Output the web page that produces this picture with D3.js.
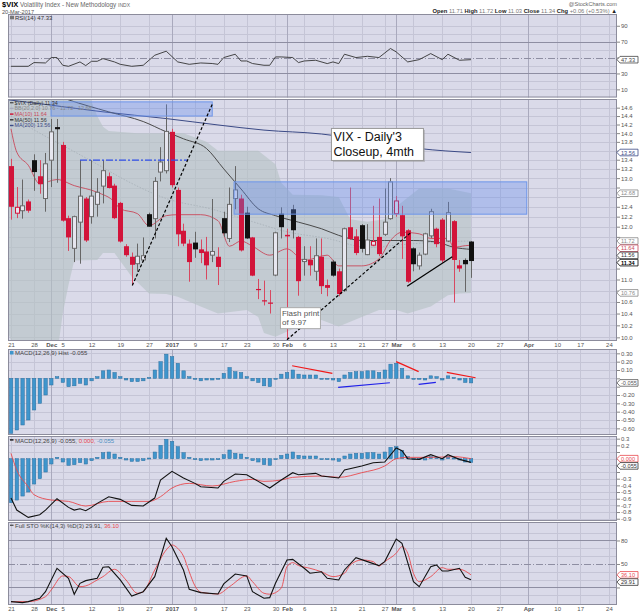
<!DOCTYPE html>
<html><head><meta charset="utf-8">
<script src="https://cdn.jsdelivr.net/npm/d3@7"></script>
<style>body{margin:0;background:#fff}svg{display:block}</style>
</head><body><svg id="c" width="640" height="614"></svg>
<script>
// ---------------- DATA ----------------
const dateTickIdx = [0,4,7,9,14,19,24,28,32,37,41,46,48,51,56,61,65,67,70,75,80,85,90,95,99,104];
const dateTickLabels = ["21","28","Dec","5","12","19","27","2017","9","17","23","30","Feb","6","13","21","27","Mar","6","13","20","27","Apr","10","17","24"];
const monthLabels = ["Dec","2017","Feb","Mar","Apr"];

const prevClose0 = 12.85;
const open = [13.26,12.27,12.32,12.51,13.39,13.04,12.57,13.39,14.14,13.73,
12.17,11.58,12.09,12.57,12.20,12.45,12.83,13.04,12.84,12.48,
11.62,11.42,11.29,11.36,12.25,12.16,13.13,13.16,14.03,12.75,
11.92,11.67,11.69,11.56,11.52,11.45,11.42,12.17,11.77,12.57,
12.57,12.28,11.79,10.83,10.63,10.59,11.08,12.26,11.84,12.35,
11.80,11.33,11.36,11.15,11.42,10.90,11.33,11.15,10.80,11.99,
11.81,12.03,11.46,11.64,11.80,11.85,12.16,12.26,12.23,11.93,
11.58,11.25,11.47,11.82,11.96,12.14,11.72,12.11,11.26,11.36,
11.71];
const high = [13.42,12.81,12.97,12.55,13.52,13.39,13.55,14.33,14.33,13.80,
12.22,12.22,13.39,12.60,13.39,13.00,13.39,13.12,12.88,12.50,
11.66,11.50,11.67,11.79,12.28,13.02,13.68,14.68,14.10,12.80,
12.06,11.75,11.90,11.75,11.80,12.56,11.60,12.30,12.80,13.26,
12.65,12.40,11.80,11.01,10.98,10.81,11.90,12.39,11.96,12.44,
11.82,11.62,11.62,11.77,11.77,11.00,11.36,11.20,11.98,12.80,
11.95,12.05,12.05,12.42,12.57,12.78,13.00,12.62,12.42,11.95,
11.60,11.50,11.88,12.36,11.98,12.17,12.50,12.13,11.36,11.39,
11.72];
const low = [12.14,12.17,12.16,12.28,12.73,12.67,12.30,12.81,12.90,12.10,
11.53,11.32,11.29,11.70,12.06,12.20,12.47,12.78,12.15,11.69,
11.42,10.90,11.14,11.32,12.00,11.77,12.93,13.10,12.80,11.62,
11.62,10.96,11.40,11.30,11.00,11.32,10.90,11.80,11.70,12.35,
11.52,11.76,11.06,10.65,10.54,10.40,11.06,11.77,9.97,11.77,
10.71,11.07,11.07,10.98,10.74,10.70,11.05,10.70,10.78,11.74,
11.45,11.50,11.45,11.62,11.43,11.82,12.14,12.20,11.38,10.94,
11.15,11.18,11.45,11.78,11.60,11.31,11.70,10.59,11.14,10.78,
11.03];
const close = [12.40,12.39,12.42,12.32,13.13,12.87,13.31,14.03,14.09,12.12,
11.79,12.20,12.62,11.73,12.62,12.70,13.16,12.79,12.17,11.71,
11.45,11.27,11.43,11.44,12.00,12.93,13.35,14.04,12.85,11.85,
11.67,11.32,11.56,11.49,11.26,11.52,11.23,11.87,12.45,12.75,
11.54,11.77,11.07,10.81,10.61,10.57,11.88,11.99,11.81,11.93,
10.97,11.37,11.26,11.44,10.88,10.85,11.07,10.74,11.96,11.76,
11.49,11.57,11.74,11.71,11.47,12.09,12.92,12.52,11.81,10.96,
11.28,11.45,11.86,12.30,11.66,11.35,12.28,11.36,11.20,11.28,
11.34];

const ma10Idx = [0,1,3,5,8,11,15,18,19,22,24,27,29,33,36,38,40,42,45,48,51,55,57,61,64,66,68,71,73,76,77,79,80];
const ma10Val = [14.1,13.57,13.28,12.88,12.97,12.84,12.70,12.5,12.36,12.26,12.02,12.22,12.24,12.24,12.12,11.62,11.72,11.62,11.45,11.57,11.35,11.45,11.25,11.25,11.38,11.73,11.89,11.86,11.77,11.77,11.6,11.63,11.64];
const ma50Idx = [-1,5,10,17,23,27,30,34,37,40,43,46,50,54,57,61,65,70,74,77,80];
const ma50Val = [15.4,15.05,14.79,14.5,14.27,14.03,13.87,13.65,13.2,12.77,12.36,12.22,12.09,11.96,11.83,11.73,11.73,11.73,11.70,11.6,11.56];
const ma200Idx = [-1,7,16,27,36,44,54,62,71,80];
const ma200Val = [14.8,14.66,14.5,14.34,14.19,14.07,13.98,13.83,13.65,13.56];
const bbUpIdx = [-1,13,14,15,16,17,22,30,34,36,43,46,47,49,54,57,59,62,65,67,71,76,80];
const bbUpVal = [15.5,15.1,14.75,14.4,14.15,14.05,14.0,14.0,13.8,13.6,13.6,13.3,12.9,12.65,12.64,12.6,12.15,12.1,12.15,12.4,12.78,12.78,12.68];
const bbLoIdx = [-1,0,1,8,9,10,11,15,16,18,21,24,27,29,33,36,41,43,44,46,50,54,57,61,64,67,69,73,76,78,80];
const bbLoVal = [10.2,9.95,9.7,9.7,10.4,10.9,11.35,11.36,11.49,11.49,11.05,10.75,10.74,10.69,10.52,10.40,10.46,10.34,10.07,10.01,10.18,10.29,10.18,10.34,10.46,10.46,10.4,10.52,10.72,10.75,10.76];
const bbMidIdx = [0,5,9,15,20,27,35,42,48,55,62,68,74,80];
const bbMidVal = [14.4,14.0,13.72,13.3,12.95,12.57,12.35,12.1,11.9,11.77,11.6,11.65,11.7,11.72];

const rsiIdx = [0,3,4,6,7,8,9,10,12,13,14,15,16,18,19,21,23,25,27,29,31,33,35,36,37,39,40,41,42,44,45,46,47,49,50,51,53,55,56,57,58,60,62,64,66,67,69,71,73,75,76,78,80];
const rsiVal = [39,39,43.7,43.2,50,50,40.3,39,44.5,39.9,45.3,45.3,48.7,44.5,41.5,39,40.3,52.9,58,44.5,41.5,43.2,42.5,41.5,50,54.2,45.7,45.7,42.5,40.3,40.3,50.8,50.8,50,43.7,45.7,46.6,42.4,44.5,42.4,54.2,50,51.6,50,61.4,57.1,44.5,47.4,55,47.4,54.2,46.6,47.33];

const macdHist = [-0.66,-0.62,-0.56,-0.50,-0.38,-0.30,-0.20,-0.08,0.02,-0.05,
-0.10,-0.09,-0.06,-0.08,-0.03,0.02,0.09,0.10,0.07,0.02,
-0.02,-0.04,-0.04,-0.03,0.01,0.10,0.20,0.29,0.26,0.18,
0.09,0.02,0.00,-0.03,-0.02,-0.02,0.00,0.06,0.13,0.08,
0.07,0.02,-0.03,-0.05,-0.09,-0.10,-0.01,0.05,0.07,0.10,
0.05,0.04,0.04,0.04,0.00,-0.01,-0.02,-0.04,0.04,0.07,
0.08,0.08,0.09,0.09,0.07,0.10,0.17,0.18,0.12,0.03,
0.00,-0.01,-0.02,0.03,0.02,-0.02,0.03,0.01,-0.02,-0.05,
-0.055];
const macdIdx = [0,1,3,5,6,8,10,11,12,13,14,15,17,19,21,23,25,26,28,30,32,33,36,37,39,41,43,45,47,49,50,53,54,57,58,61,63,65,67,68,69,71,73,75,76,78,80];
const macdVal = [-0.59,-0.77,-0.88,-0.84,-0.77,-0.60,-0.73,-0.77,-0.75,-0.78,-0.73,-0.67,-0.57,-0.61,-0.70,-0.71,-0.59,-0.32,-0.19,-0.29,-0.37,-0.42,-0.44,-0.34,-0.23,-0.24,-0.34,-0.44,-0.32,-0.21,-0.24,-0.22,-0.26,-0.29,-0.17,-0.11,-0.06,-0.05,0.16,0.12,0.0,-0.01,0.06,0.0,0.06,-0.01,-0.055];
const sigIdx = [0,1,3,4,7,10,13,17,21,24,26,28,31,35,39,42,44,47,49,54,57,61,65,67,69,73,77,80];
const sigVal = [0.08,-0.17,-0.42,-0.54,-0.62,-0.64,-0.71,-0.64,-0.64,-0.64,-0.57,-0.44,-0.37,-0.41,-0.34,-0.31,-0.34,-0.32,-0.28,-0.26,-0.28,-0.21,-0.11,0.0,0.02,0.02,0.03,0.0];

const stoKIdx = [0,2,3,5,6,8,10,11,12,13,15,16,17,19,21,23,25,27,28,30,31,33,36,37,39,41,42,44,45,46,48,49,51,52,54,55,57,58,60,62,64,65,67,68,70,71,73,74,75,76,78,79,80];
const stoKVal = [1.9,0.6,1.9,6.2,14.6,44.5,31.7,11.3,25.3,28.7,31.7,45.8,46.4,29.6,9.1,14.6,33.8,82.8,72.1,42.3,17.7,13.4,11.7,24.5,37.2,34.8,14.6,6.2,7,25.3,55.1,55.9,44.5,38.1,40,31.7,29.6,42.3,58,53,47.9,53,81.9,76.4,27.4,21,46.6,48.7,41,41,44.5,33,29.91];
const stoDIdx = [0,3,6,7,9,10,12,13,15,16,18,20,22,23,25,27,28,29,30,31,32,33,36,38,41,42,44,45,47,48,49,50,52,54,56,58,59,61,63,64,65,67,68,69,70,71,73,75,76,78,80];
const stoDVal = [1.9,1.9,8.2,16.8,34.7,34.0,21,22,29.6,33.8,43.2,29.6,12.6,14.6,42.3,67.9,74.3,70,60,40,22,14,11.7,21,34.7,27.4,12.6,11.4,19,46.6,51.7,48,44.5,40,33.8,38.1,48.7,55.1,53,47.3,53,63.7,72.1,63.7,38.1,27.4,33.8,45.3,43.2,43.2,36.1];

// annotations (in data coordinates)
const zoneStartIdx = [6.96, 38.8], zoneEndIdx = [35.0, 89.7];
const zoneTopVal = [14.74, 12.92], zoneBotVal = [14.40, 12.25];
const levelStartIdx = 12.0, levelEndIdx = 30.7, levelVal = 13.39;
const trendStartIdx = [21.1, 48.0, 68.9], trendStartVal = [10.89, 9.96, 10.88];
const trendEndIdx = [35.0, 69.7, 76.75], trendEndVal = [14.68, 11.9, 11.42];
const trendDashed = [true, true, false];
const divStartIdx = [48.9, 67.0, 75.8, 56.9, 70.9], divStartVal = [0.151, 0.20, 0.072, -0.108, -0.072];
const divEndIdx = [55.9, 70.9, 80.8, 65.9, 73.9], divEndVal = [0.06, 0.08, 0.007, -0.053, -0.048];
const divColor = ["red","red","red","blue","blue"];
const noteIdx = 55.65, noteVal = 14.12;
const flashIdx = 46.78, flashVal = 10.51;

const bbLast = [10.76, 11.72, 12.68];
const stoLast = [29.91, 36.10];

// ---------------- DRAW ----------------
const FONT = '"Liberation Sans", Arial, Helvetica, sans-serif';
const L = 8, R = 617;
const svg = d3.select("#c").attr("font-family", FONT);
const x = d3.scaleLinear().domain([-0.52, 105.4]).range([L, R]);

const PN = {
  rsi: {top:14, bot:97.5},
  main:{top:99, bot:341},
  hist:{top:349, bot:435},
  macd:{top:436, bot:521},
  sto: {top:522, bot:605}
};
const yRsi = d3.scaleLinear().domain([-0.25,104.8]).range([PN.rsi.bot, PN.rsi.top]);
const yMain = d3.scaleLog().domain([9.94,14.81]).range([PN.main.bot, PN.main.top]);
const yHist = d3.scaleLinear().domain([-0.68,0.352]).range([PN.hist.bot, PN.hist.top]);
const yMacd = d3.scaleLinear().domain([-0.934,0.34]).range([PN.macd.bot, PN.macd.top]);
const ySto = d3.scaleLinear().domain([-2.4,103.6]).range([PN.sto.bot, PN.sto.top]);

const BG = "#dadae9", GRID = "#c5c5d6", MGRID = "#a9a9bd";
const defs = svg.append("defs");

function panel(key, hTicks, yScale, strongTicks, dashTicks){
  const p = PN[key];
  defs.append("clipPath").attr("id","clip-"+key).append("rect")
    .attr("x",L).attr("y",p.top).attr("width",R-L).attr("height",p.bot-p.top);
  svg.append("rect").attr("x",L).attr("y",p.top).attr("width",R-L).attr("height",p.bot-p.top).attr("fill",BG);
  const g = svg.append("g").attr("clip-path",`url(#clip-${key})`).attr("shape-rendering","crispEdges");
  g.selectAll(".h").data(hTicks).join("line")
    .attr("x1",L).attr("x2",R).attr("y1",d=>Math.round(yScale(d))+0.5).attr("y2",d=>Math.round(yScale(d))+0.5)
    .attr("stroke",GRID);
  g.selectAll(".v").data(dateTickIdx).join("line")
    .attr("x1",d=>Math.round(x(d))+0.5).attr("x2",d=>Math.round(x(d))+0.5).attr("y1",p.top).attr("y2",p.bot)
    .attr("stroke",(d,k)=>monthLabels.includes(dateTickLabels[k])?MGRID:GRID);
  (strongTicks||[]).forEach(v=>g.append("line").attr("x1",L).attr("x2",R)
    .attr("y1",Math.round(yScale(v))+0.5).attr("y2",Math.round(yScale(v))+0.5).attr("stroke","#8e8ea2"));
  (dashTicks||[]).forEach(v=>g.append("line").attr("x1",L).attr("x2",R)
    .attr("y1",Math.round(yScale(v))+0.5).attr("y2",Math.round(yScale(v))+0.5).attr("stroke","#8e8ea2").attr("stroke-dasharray","7,2,1,2"));
  return svg.append("g").attr("clip-path",`url(#clip-${key})`);
}
function border(key){
  const p = PN[key];
  svg.append("rect").attr("x",L+0.5).attr("y",p.top+0.5).attr("width",R-L-1).attr("height",p.bot-p.top-1)
    .attr("fill","none").attr("stroke","#8c8c9c");
}
// value boxes at right axis; de-overlapped, and tick labels under them are hidden
function placeBoxes(boxes){
  boxes.sort((a,b)=>a.y-b.y);
  for(let k=1;k<boxes.length;k++){ if(boxes[k].y < boxes[k-1].y+7.2) boxes[k].y = boxes[k-1].y+7.2; }
  return boxes;
}
function rightAxis(scale, ticks, fmt, boxes){
  const g = svg.append("g").attr("transform",`translate(${R},0)`)
    .call(d3.axisRight(scale).tickValues(ticks).tickSize(3).tickPadding(1).tickFormat(fmt));
  g.select(".domain").remove();
  g.selectAll("line").attr("stroke","#888");
  g.selectAll("text").attr("font-size",6).attr("fill","#555").attr("font-family",FONT)
    .filter(d=>boxes.some(b=>Math.abs(scale(d)-b.y)<7.2)).remove();
  boxes.forEach(b=>{
    const y=b.y;
    svg.append("path").attr("d",`M${R},${y} L${R+3},${y-3.3} L${R+21},${y-3.3} L${R+21},${y+3.3} L${R+3},${y+3.3} Z`)
      .attr("fill","#fff").attr("stroke",b.col).attr("stroke-width",0.8);
    svg.append("text").attr("x",R+4).attr("y",y+2).attr("font-size",5.6).attr("fill",b.bold?"#000":b.col)
      .attr("font-weight",b.bold?"bold":null).text(b.txt);
  });
}
function dateAxis(y){
  const g = svg.append("g").attr("transform",`translate(0,${y})`)
    .call(d3.axisBottom(x).tickValues(dateTickIdx).tickSize(0).tickPadding(2).tickFormat((d,k)=>dateTickLabels[k]));
  g.select(".domain").remove();
  g.selectAll("text").attr("font-size",6).attr("fill","#555").attr("font-family",FONT)
    .attr("font-weight",(d,k)=>monthLabels.includes(dateTickLabels[k])?"bold":null);
}
function lineOf(idx, vals, ys, curve){
  return d3.line().x(d=>x(d[0])).y(d=>ys(d[1])).curve(curve||d3.curveLinear)(idx.map((d,k)=>[d,vals[k]]));
}
const fmt1 = v=>(Math.abs(v)<1e-9?0:v).toFixed(1);
const fmt2 = v=>(Math.abs(v)<1e-9?0:v).toFixed(2);
const fmt3 = v=>v.toFixed(3);
const last = a=>a[a.length-1];

// ---- header ----
const hdr = svg.append("g").attr("font-size",6.3);
hdr.append("text").attr("x",2).attr("y",7).attr("fill","#000")
  .call(t=>{t.append("tspan").attr("font-weight","bold").attr("font-size",7.5).text("$VIX");
            t.append("tspan").attr("fill","#666").text(" Volatility Index - New Methodology ");
            t.append("tspan").attr("fill","#666").attr("font-size",5).text("INDX");});
hdr.append("text").attr("x",2).attr("y",13.6).attr("fill","#555").attr("font-size",5.6).text("20-Mar-2017");
hdr.append("text").attr("x",R).attr("y",6).attr("text-anchor","end").attr("fill","#666").attr("font-size",5.6).text("@StockCharts.com");
hdr.append("text").attr("x",R).attr("y",13.3).attr("text-anchor","end").attr("font-size",5.8)
  .call(t=>{
    [["Open ",open[80].toFixed(2)],["High ",high[80].toFixed(2)],["Low ",low[80].toFixed(2)],["Close ",close[80].toFixed(2)],["Chg ","+0.06 (+0.53%)"]]
      .forEach(([a,b])=>{t.append("tspan").attr("font-weight","bold").attr("fill","#222").text(a);
                         t.append("tspan").attr("fill","#777").text(b+" ");});
    t.append("tspan").attr("fill","#222").text("▲");
  });

// ---- RSI ----
const gR = panel("rsi", [10,20,40,60,80,90], yRsi, [30,70], [50]);
gR.append("path").attr("d",lineOf(rsiIdx,rsiVal,yRsi)).attr("fill","none").attr("stroke","#333").attr("stroke-width",0.9);
border("rsi");
svg.append("rect").attr("x",10).attr("y",15.8).attr("width",4).attr("height",3.5).attr("fill","#777");
svg.append("text").attr("x",15).attr("y",19.8).attr("font-size",6).attr("fill","#333").text("RSI(14) "+last(rsiVal).toFixed(2));
rightAxis(yRsi,[10,30,50,70,90],d=>d, placeBoxes([{y:yRsi(last(rsiVal)),txt:last(rsiVal).toFixed(2),col:"#444"}]));

// ---- MAIN ----
const mainTicks = d3.range(0,24).map(k=>10+k*0.2);
const gM = panel("main", mainTicks, yMain);
const upPts = bbUpIdx.map((d,k)=>[x(d), yMain(bbUpVal[k])]);
const loPts = bbLoIdx.map((d,k)=>[x(d), yMain(bbLoVal[k])]).reverse();
gM.append("path").attr("d", d3.line()(upPts.concat(loPts))+"Z")
  .attr("fill","#b4c2c4").attr("fill-opacity",0.62);
gM.append("path").attr("d",lineOf(bbMidIdx,bbMidVal,yMain,d3.curveMonotoneX)).attr("fill","none")
  .attr("stroke","#a6aeb6").attr("stroke-width",0.8).attr("stroke-dasharray","1.5,1.5");
gM.append("path").attr("d",lineOf(ma200Idx,ma200Val,yMain,d3.curveMonotoneX)).attr("fill","none").attr("stroke","#3b4a86").attr("stroke-width",1);
gM.append("path").attr("d",lineOf(ma50Idx,ma50Val,yMain,d3.curveMonotoneX)).attr("fill","none").attr("stroke","#4a4a4a").attr("stroke-width",1);
gM.append("path").attr("d",lineOf(ma10Idx,ma10Val,yMain,d3.curveMonotoneX)).attr("fill","none").attr("stroke","#c8485a").attr("stroke-width",0.9);
const RED = "#d2143a";
const cands = close.map((c,i)=>({i,o:open[i],h:high[i],l:low[i],c,pc:i?close[i-1]:prevClose0}));
const gC = gM.append("g");
cands.forEach(d=>{
  const cx = Math.round(x(d.i));
  const up = d.c >= d.pc;
  const hollow = d.c > d.o;
  const col = up ? (hollow ? "#6a6a6a" : "#111") : RED;
  gC.append("line").attr("x1",cx+0.5).attr("x2",cx+0.5).attr("y1",yMain(d.h)).attr("y2",yMain(d.l))
    .attr("stroke", up ? "#666" : "#d84860").attr("stroke-width",1);
  const yt = yMain(Math.max(d.o,d.c)), yb = yMain(Math.min(d.o,d.c));
  if(hollow){
    gC.append("rect").attr("x",cx-1.5).attr("y",yt).attr("width",4).attr("height",Math.max(1,yb-yt))
      .attr("fill","#e6e6ef").attr("stroke",col).attr("stroke-width",1);
  } else {
    gC.append("rect").attr("x",cx-2).attr("y",yt).attr("width",5).attr("height",Math.max(1.2,yb-yt)).attr("fill",col);
  }
});
zoneStartIdx.forEach((s,k)=>{
  gM.append("rect").attr("x",x(s)).attr("y",yMain(zoneTopVal[k])).attr("width",x(zoneEndIdx[k])-x(s))
    .attr("height",yMain(zoneBotVal[k])-yMain(zoneTopVal[k]))
    .attr("fill","#5b86ec").attr("fill-opacity",0.33).attr("stroke","#6e96ea").attr("stroke-width",1);
});
gM.append("line").attr("x1",x(levelStartIdx)).attr("x2",x(levelEndIdx)).attr("y1",yMain(levelVal)).attr("y2",yMain(levelVal))
  .attr("stroke","#2f4ee8").attr("stroke-width",1.3).attr("stroke-dasharray","7,2,2,2");
trendStartIdx.forEach((s,k)=>{
  gM.append("line").attr("x1",x(s)).attr("y1",yMain(trendStartVal[k])).attr("x2",x(trendEndIdx[k])).attr("y2",yMain(trendEndVal[k]))
    .attr("stroke","#000").attr("stroke-width",1.2).attr("stroke-dasharray",trendDashed[k]?"3,2":null);
});
border("main");
const lg = [
  {t:"$VIX (Daily) "+close[80].toFixed(2), c:"#333", ic:"#555"},
  {t:"BB(20,2.0) "+bbLast.map(v=>v.toFixed(2)).join(" - "), c:"#888", ic:"#aab"},
  {t:"MA(10) "+last(ma10Val).toFixed(2), c:"#c8485a", ic:"#d01030"},
  {t:"MA(50) "+last(ma50Val).toFixed(2), c:"#333", ic:"#333"},
  {t:"MA(200) "+last(ma200Val).toFixed(2), c:"#3b4a86", ic:"#3b4a86"}
];
lg.forEach((d,k)=>{
  const y = 104.6 + k*5.7;
  svg.append("rect").attr("x",10).attr("y",y-2.6).attr("width",3.5).attr("height",1.4).attr("fill",d.ic);
  svg.append("text").attr("x",14.5).attr("y",y).attr("font-size",5.4).attr("fill",d.c).text(d.t);
});
rightAxis(yMain, mainTicks.filter(v=>v<14.7), fmt1, placeBoxes([
  {y:yMain(last(ma200Val)), txt:last(ma200Val).toFixed(2), col:"#3b4a86"},
  {y:yMain(bbLast[2]), txt:bbLast[2].toFixed(2), col:"#888"},
  {y:yMain(bbLast[1]), txt:bbLast[1].toFixed(2), col:"#888"},
  {y:yMain(last(ma10Val)), txt:last(ma10Val).toFixed(2), col:"#c8485a"},
  {y:yMain(last(ma50Val)), txt:last(ma50Val).toFixed(2), col:"#333"},
  {y:yMain(close[80]), txt:close[80].toFixed(2), col:"#000", bold:true},
  {y:yMain(bbLast[0]), txt:bbLast[0].toFixed(2), col:"#888"}
]));
const nx = x(noteIdx), ny = yMain(noteVal);
svg.append("rect").attr("x",nx+2).attr("y",ny+2).attr("width",92).attr("height",32).attr("fill","#999").attr("opacity",0.5);
svg.append("rect").attr("x",nx+0.5).attr("y",ny+0.5).attr("width",92).attr("height",32).attr("fill","#fff").attr("stroke","#999");
svg.append("text").attr("x",nx+2.5).attr("y",ny+13.5).attr("font-size",12.5).attr("fill","#111").text("VIX - Daily'3");
svg.append("text").attr("x",nx+2.5).attr("y",ny+28.5).attr("font-size",12.5).attr("fill","#111").text("Closeup, 4mth");
const fx = x(flashIdx), fy = yMain(flashVal);
svg.append("rect").attr("x",fx+0.5).attr("y",fy+0.5).attr("width",40).attr("height",21).attr("fill","#fff").attr("stroke","#aaa");
svg.append("text").attr("x",fx+2).attr("y",fy+8.5).attr("font-size",8).attr("fill","#555").text("Flash print");
svg.append("text").attr("x",fx+2).attr("y",fy+18).attr("font-size",8).attr("fill","#555").text("of 9.97");
dateAxis(PN.main.bot);

// ---- MACD HIST ----
const histTicks = d3.range(-6,4).map(k=>k/10);
const gH = panel("hist", histTicks, yHist);
gH.selectAll("rect.b").data(macdHist).join("rect")
  .attr("x",(d,i)=>x(i)-1.6).attr("width",3.4)
  .attr("y",d=>Math.min(yHist(d),yHist(0))).attr("height",d=>Math.max(1,Math.abs(yHist(d)-yHist(0))))
  .attr("fill","#3f95cc").attr("stroke","#2a6f9f").attr("stroke-width",0.5);
divStartIdx.forEach((s,k)=>{
  gH.append("line").attr("x1",x(s)).attr("y1",yHist(divStartVal[k])).attr("x2",x(divEndIdx[k])).attr("y2",yHist(divEndVal[k]))
    .attr("stroke",divColor[k]==="red"?"#f01818":"#2020e8").attr("stroke-width",1.2);
});
border("hist");
svg.append("rect").attr("x",10).attr("y",351).attr("width",3.5).attr("height",3.5).attr("fill","#3f95cc");
svg.append("text").attr("x",15).attr("y",355).attr("font-size",6).attr("fill","#444").text("MACD(12,26,9) Hist "+fmt3(macdHist[80]));
rightAxis(yHist, histTicks, fmt2, placeBoxes([{y:yHist(macdHist[80]), txt:fmt3(macdHist[80]), col:"#555"}]));

// ---- MACD ----
const macdTicks = d3.range(-9,4).map(k=>k/10);
const gD = panel("macd", macdTicks, yMacd);
gD.selectAll("rect.b").data(macdHist).join("rect")
  .attr("x",(d,i)=>x(i)-1.6).attr("width",3.4)
  .attr("y",d=>Math.min(yMacd(d),yMacd(0))).attr("height",d=>Math.max(1,Math.abs(yMacd(d)-yMacd(0))))
  .attr("fill","#3f95cc").attr("stroke","#2a6f9f").attr("stroke-width",0.5);
gD.append("path").attr("d",lineOf(sigIdx,sigVal,yMacd,d3.curveMonotoneX)).attr("fill","none").attr("stroke","#e8494e").attr("stroke-width",0.9);
gD.append("path").attr("d",lineOf(macdIdx,macdVal,yMacd)).attr("fill","none").attr("stroke","#111").attr("stroke-width",1.1);
border("macd");
svg.append("rect").attr("x",10).attr("y",439.2).attr("width",3.5).attr("height",1.4).attr("fill","#111");
svg.append("text").attr("x",15).attr("y",442.5).attr("font-size",6).attr("fill","#444")
  .call(t=>{t.append("tspan").text("MACD(12,26,9) "+fmt3(last(macdVal))+", ");
            t.append("tspan").attr("fill","#e8494e").text(fmt3(last(sigVal))+", ");
            t.append("tspan").attr("fill","#4a8ec0").text(fmt3(macdHist[80]));});
rightAxis(yMacd, macdTicks, fmt1, placeBoxes([
  {y:yMacd(last(sigVal)), txt:fmt3(last(sigVal)), col:"#e8494e"},
  {y:yMacd(last(macdVal)), txt:fmt3(last(macdVal)), col:"#333"}
]));

// ---- STO ----
const gS = panel("sto", [10,30,40,60,70,90], ySto, [20,80], [50]);
gS.append("path").attr("d",lineOf(stoDIdx,stoDVal,ySto,d3.curveMonotoneX)).attr("fill","none").attr("stroke","#e8494e").attr("stroke-width",0.9);
gS.append("path").attr("d",lineOf(stoKIdx,stoKVal,ySto)).attr("fill","none").attr("stroke","#111").attr("stroke-width",1.1);
border("sto");
svg.append("rect").attr("x",10).attr("y",524.6).attr("width",3.5).attr("height",1.4).attr("fill","#555");
svg.append("text").attr("x",15).attr("y",527.8).attr("font-size",6).attr("fill","#444")
  .call(t=>{t.append("tspan").text("Full STO %K(14,3) %D(3) "+stoLast[0].toFixed(2)+", ");
            t.append("tspan").attr("fill","#e8494e").text(stoLast[1].toFixed(2));});
rightAxis(ySto,[20,50,80],d=>d, placeBoxes([
  {y:ySto(stoLast[1]), txt:stoLast[1].toFixed(2), col:"#e8494e"},
  {y:ySto(stoLast[0]), txt:stoLast[0].toFixed(2), col:"#333"}
]));
dateAxis(PN.sto.bot);
</script>
</body></html>
